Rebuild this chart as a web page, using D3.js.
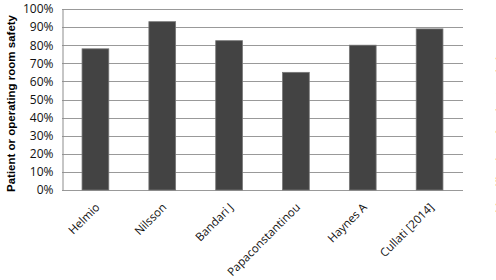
<!DOCTYPE html>
<html>
<head>
<meta charset="utf-8">
<script src="https://cdn.jsdelivr.net/npm/d3@7"></script>
<style>
  body { margin: 0; background: #fff; }
  svg { display: block; }
  .tick text { font-family: "Open Sans", "Liberation Sans", sans-serif; font-size: 12px; fill: #111; }
  .xAxis .tick text { font-size: 11.5px; }
</style>
</head>
<body>
<div id="chart"></div>
<script>
var studies = ["Helmio", "Nilsson", "Bandari J", "Papaconstantinou", "Haynes A", "Cullati [2014]"];
var safety = [0.78, 0.93, 0.825, 0.65, 0.80, 0.89];
var yTicks = [0, 0.1, 0.2, 0.3, 0.4, 0.5, 0.6, 0.7, 0.8, 0.9, 1.0];

var width = 496, height = 280;
var margin = {top: 9, right: 33, bottom: 90, left: 62};

var svg = d3.select("#chart").append("svg")
    .attr("width", width)
    .attr("height", height);

var x = d3.scaleBand()
    .domain(studies)
    .range([margin.left, width - margin.right])
    .paddingInner(0.6)
    .paddingOuter(0.3);

var y = d3.scaleLinear()
    .domain([0, 1])
    .range([height - margin.bottom, margin.top]);

// gridlines
svg.append("g")
    .selectAll("line")
    .data(yTicks)
    .enter().append("line")
    .attr("x1", margin.left)
    .attr("x2", width - margin.right)
    .attr("y1", function(d){ return Math.round(y(d)) + 0.5; })
    .attr("y2", function(d){ return Math.round(y(d)) + 0.5; })
    .attr("stroke", "#999999")
    .attr("stroke-width", 1);

// bars
svg.append("g")
    .selectAll("rect")
    .data(studies)
    .enter().append("rect")
    .attr("x", function(d){ return x(d); })
    .attr("y", function(d, i){ return y(safety[i]); })
    .attr("width", x.bandwidth())
    .attr("height", function(d, i){ return y(0) - y(safety[i]); })
    .attr("fill", "#434343")
    .attr("stroke", "#777777")
    .attr("stroke-width", 0.8);

// y axis
var yAxis = d3.axisLeft(y)
    .tickValues(yTicks)
    .tickFormat(d3.format(".0%"))
    .tickSize(0)
    .tickPadding(9);

svg.append("g")
    .attr("class", "yAxis")
    .attr("transform", "translate(" + (margin.left + 0.5) + ",0)")
    .call(yAxis)
    .call(function(g){ g.select(".domain").attr("stroke", "#8c8c8c"); });

// x axis
var xAxis = d3.axisBottom(x).tickSize(0).tickPadding(0);

svg.append("g")
    .attr("class", "xAxis")
    .attr("transform", "translate(0," + (height - margin.bottom) + ")")
    .call(xAxis)
    .call(function(g){ g.select(".domain").remove(); })
    .selectAll("text")
      .attr("text-anchor", "end")
      .attr("dy", null)
      .attr("transform", "translate(5,18) rotate(-45)");

// y axis title
svg.append("text")
    .attr("transform", "translate(15," + (margin.top + (height - margin.top - margin.bottom) / 2 + 4) + ") rotate(-90)")
    .attr("text-anchor", "middle")
    .style("font-family", "'Liberation Sans', Arial, sans-serif")
    .style("font-size", "11.5px")
    .style("font-weight", "bold")
    .style("fill", "#000")
    .text("Patient or operating room safety");

// neighbouring chart's title, cut off at the right edge
svg.append("text")
    .attr("transform", "translate(504,130) rotate(-90)")
    .attr("text-anchor", "middle")
    .style("font-family", "'Liberation Sans', Arial, sans-serif")
    .style("font-size", "11px")
    .style("font-weight", "bold")
    .style("fill", "#000")
    .text("Identification of patient and site");
</script>
</body>
</html>
